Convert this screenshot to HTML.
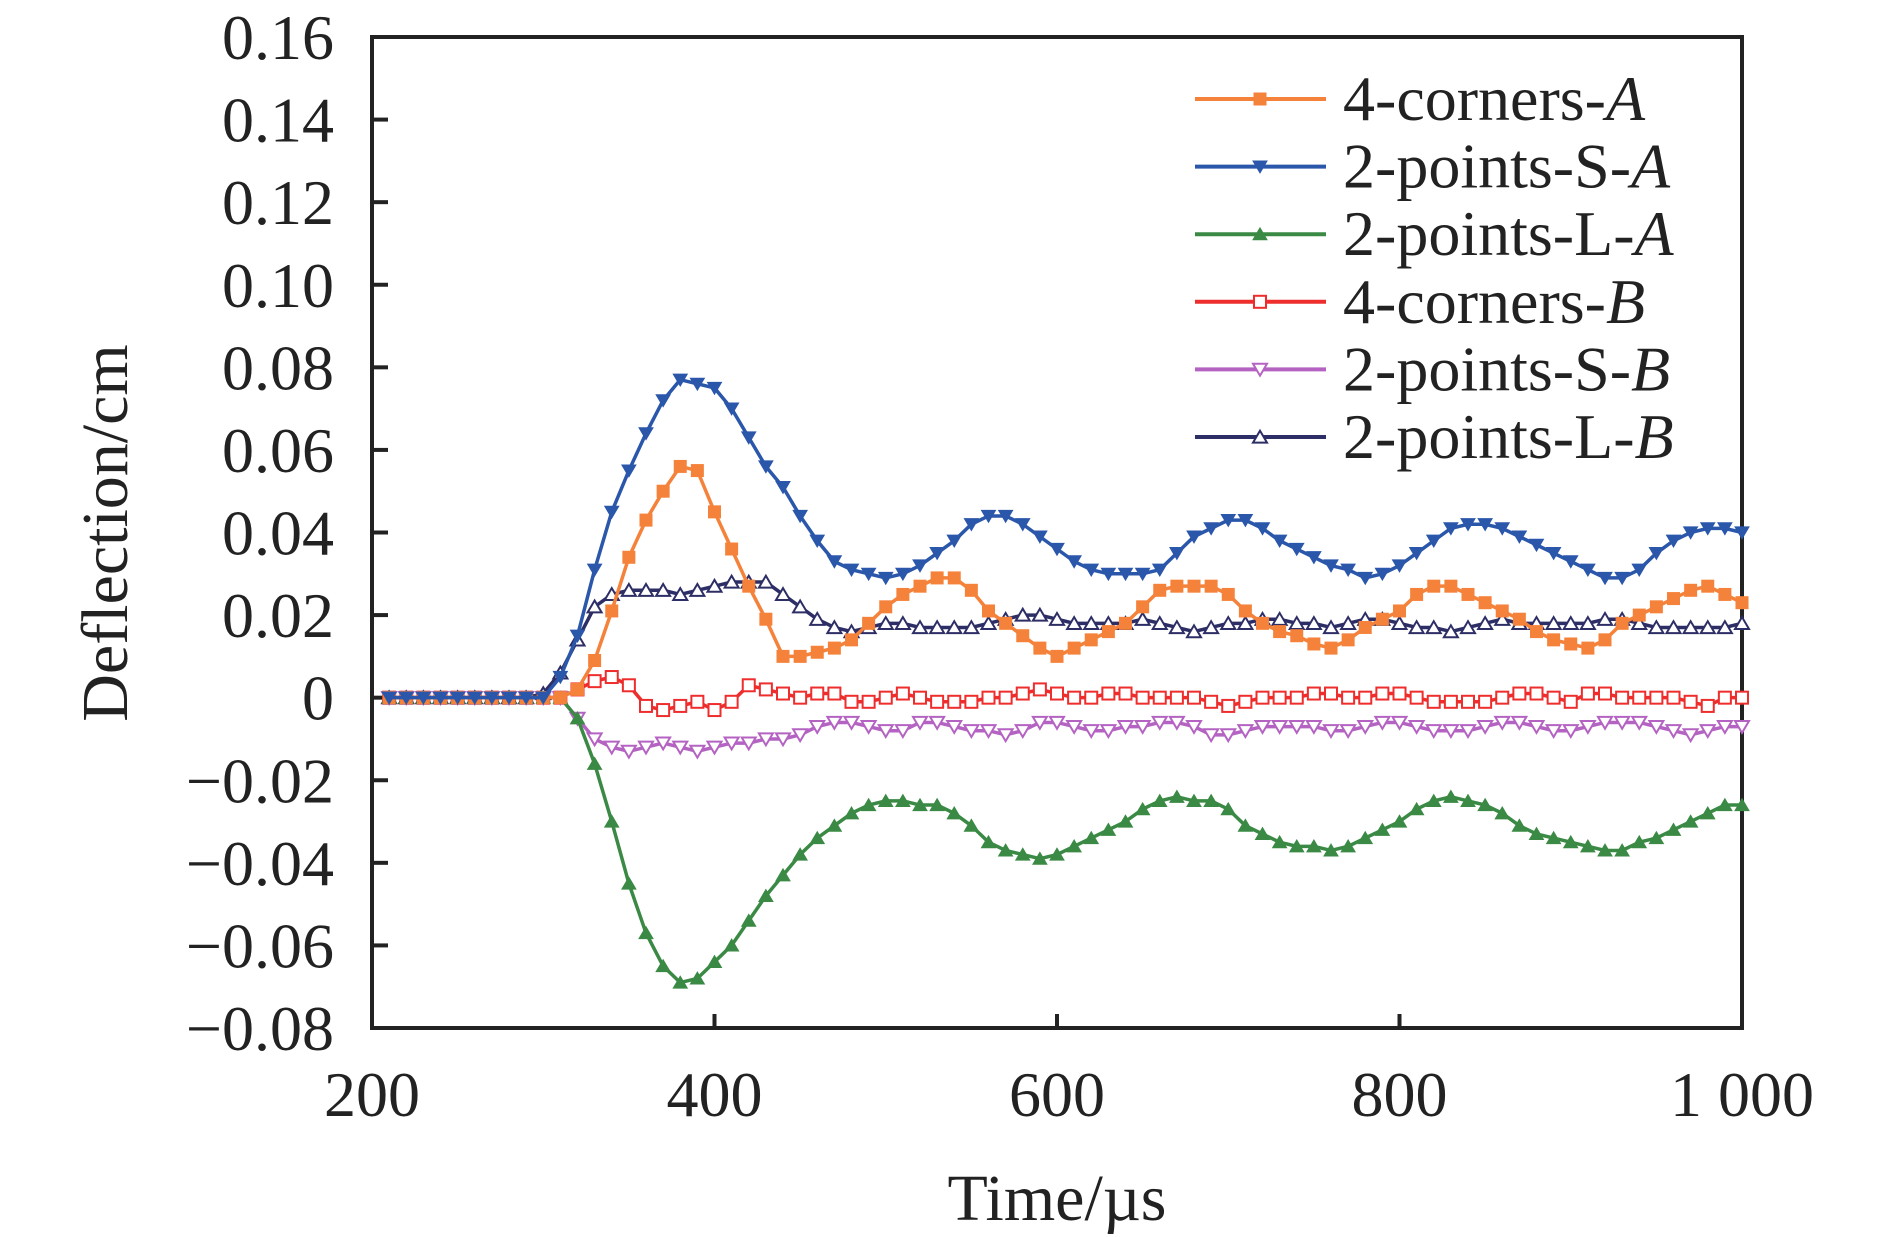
<!DOCTYPE html>
<html><head><meta charset="utf-8"><style>
html,body{margin:0;padding:0;background:#fff;}
svg{display:block;}
text{font-family:"Liberation Serif","DejaVu Serif",serif;}
</style></head><body>
<svg id="chart" width="1890" height="1237" viewBox="0 0 1890 1237" xmlns="http://www.w3.org/2000/svg">
<g id="grid"></g><g id="series"></g><g id="legend"></g>
</svg>
<script>
const times = [];
for (let t = 200; t <= 1000; t += 10) times.push(t);
const z = n => Array(n).fill(0);
const cornersA = [...z(12),0.002,0.009,0.021,0.034,0.043,0.050,0.056,0.055,0.045,0.036,0.027,0.019,0.010,0.010,0.011,0.012,0.014,0.018,0.022,0.025,0.027,0.029,0.029,0.026,0.021,0.018,0.015,0.012,0.010,0.012,0.014,0.016,0.018,0.022,0.026,0.027,0.027,0.027,0.025,0.021,0.018,0.016,0.015,0.013,0.012,0.014,0.017,0.019,0.021,0.025,0.027,0.027,0.025,0.023,0.021,0.019,0.016,0.014,0.013,0.012,0.014,0.018,0.020,0.022,0.024,0.026,0.027,0.025,0.023];
const pointsSA = [...z(11),0.005,0.015,0.031,0.045,0.055,0.064,0.072,0.077,0.076,0.075,0.070,0.063,0.056,0.051,0.044,0.038,0.033,0.031,0.030,0.029,0.030,0.032,0.035,0.038,0.042,0.044,0.044,0.042,0.039,0.036,0.033,0.031,0.030,0.030,0.030,0.031,0.035,0.039,0.041,0.043,0.043,0.041,0.038,0.036,0.034,0.032,0.031,0.029,0.030,0.032,0.035,0.038,0.041,0.042,0.042,0.041,0.039,0.037,0.035,0.033,0.031,0.029,0.029,0.031,0.035,0.038,0.040,0.041,0.041,0.040];
const pointsLA = [...z(12),-0.005,-0.016,-0.030,-0.045,-0.057,-0.065,-0.069,-0.068,-0.064,-0.060,-0.054,-0.048,-0.043,-0.038,-0.034,-0.031,-0.028,-0.026,-0.025,-0.025,-0.026,-0.026,-0.028,-0.031,-0.035,-0.037,-0.038,-0.039,-0.038,-0.036,-0.034,-0.032,-0.030,-0.027,-0.025,-0.024,-0.025,-0.025,-0.027,-0.031,-0.033,-0.035,-0.036,-0.036,-0.037,-0.036,-0.034,-0.032,-0.030,-0.027,-0.025,-0.024,-0.025,-0.026,-0.028,-0.031,-0.033,-0.034,-0.035,-0.036,-0.037,-0.037,-0.035,-0.034,-0.032,-0.030,-0.028,-0.026,-0.026];
const cornersB = [...z(12),0.002,0.004,0.005,0.003,-0.002,-0.003,-0.002,-0.001,-0.003,-0.001,0.003,0.002,0.001,0.000,0.001,0.001,-0.001,-0.001,0.000,0.001,0.000,-0.001,-0.001,-0.001,0.000,0.000,0.001,0.002,0.001,0.000,0.000,0.001,0.001,0.000,0.000,0.000,0.000,-0.001,-0.002,-0.001,0.000,0.000,0.000,0.001,0.001,0.000,0.000,0.001,0.001,0.000,-0.001,-0.001,-0.001,-0.001,0.000,0.001,0.001,0.000,-0.001,0.001,0.001,0.000,0.000,0.000,0.000,-0.001,-0.002,0.000,0.000,-0.001];
const pointsSB = [...z(12),-0.005,-0.010,-0.012,-0.013,-0.012,-0.011,-0.012,-0.013,-0.012,-0.011,-0.011,-0.010,-0.010,-0.009,-0.007,-0.006,-0.006,-0.007,-0.008,-0.008,-0.006,-0.006,-0.007,-0.008,-0.008,-0.009,-0.008,-0.006,-0.006,-0.007,-0.008,-0.008,-0.007,-0.007,-0.006,-0.006,-0.007,-0.009,-0.009,-0.008,-0.007,-0.007,-0.007,-0.007,-0.008,-0.008,-0.007,-0.006,-0.006,-0.007,-0.008,-0.008,-0.008,-0.007,-0.006,-0.006,-0.007,-0.008,-0.008,-0.007,-0.006,-0.006,-0.006,-0.007,-0.008,-0.009,-0.008,-0.007,-0.007];
const pointsLB = [...z(10),0.001,0.006,0.014,0.022,0.025,0.026,0.026,0.026,0.025,0.026,0.027,0.028,0.028,0.028,0.025,0.022,0.019,0.017,0.016,0.017,0.018,0.018,0.017,0.017,0.017,0.017,0.018,0.019,0.020,0.020,0.019,0.018,0.018,0.018,0.018,0.019,0.018,0.017,0.016,0.017,0.018,0.018,0.019,0.019,0.018,0.018,0.017,0.018,0.019,0.019,0.018,0.017,0.017,0.016,0.017,0.018,0.019,0.018,0.018,0.018,0.018,0.018,0.019,0.019,0.018,0.017,0.017,0.017,0.017,0.017,0.018];
const seriesNames = ["4-corners-","2-points-S-","2-points-L-","4-corners-","2-points-S-","2-points-L-"];
const seriesSuffix = ["A","A","A","B","B","B"];
const xTicks = [200,400,600,800,1000];
const xTickLabels = ["200","400","600","800","1 000"];
const yTicks = [0.16,0.14,0.12,0.10,0.08,0.06,0.04,0.02,0,-0.02,-0.04,-0.06,-0.08];
const yTickLabels = ["0.16","0.14","0.12","0.10","0.08","0.06","0.04","0.02","0","\u22120.02","\u22120.04","\u22120.06","\u22120.08"];

const L=372,R=1742,T=37,B=1028;
const xS=v=>L+(v-200)/800*(R-L);
const yS=v=>T+(0.16-v)/0.24*(B-T);
const NS="http://www.w3.org/2000/svg";
function mk(tag,attrs,parent){const e=document.createElementNS(NS,tag);for(const k in attrs)e.setAttribute(k,attrs[k]);parent.appendChild(e);return e;}
const grid=document.getElementById('grid'),ser=document.getElementById('series'),leg=document.getElementById('legend');
const frame=mk('rect',{x:L,y:T,width:R-L,height:B-T,fill:'none',stroke:'#222','stroke-width':4},grid);


xTicks.forEach((v,i)=>{
  const tk=mk('line',{x1:xS(v),x2:xS(v),y1:B,y2:B-14,stroke:'#222','stroke-width':4},grid);
  
  
  const t=mk('text',{x:xS(v),y:1116,'text-anchor':'middle','font-size':64,fill:'#222'},grid);
  t.textContent=xTickLabels[i];
  
  
});
yTicks.forEach((v,i)=>{
  const tk=mk('line',{x1:L,x2:L+16,y1:yS(v),y2:yS(v),stroke:'#222','stroke-width':4},grid);
  
  
  const t=mk('text',{x:334,y:yS(v)+22,'text-anchor':'end','font-size':64,fill:'#222'},grid);
  t.textContent=yTickLabels[i];
  
  
});
const xt=mk('text',{x:1057,y:1220,'text-anchor':'middle','font-size':66,fill:'#222'},grid);
xt.textContent='Time/\u00b5s';


const yt=mk('text',{x:0,y:0,'text-anchor':'middle','font-size':66,fill:'#222',transform:'translate(127,533) rotate(-90)'},grid);
yt.textContent='Deflection/cm';



const colors=['#f5823a','#2b57ab','#3a8a45','#ee2d2d','#b463c2','#2e2e66'];
const markers=['sq','tdown','tup','sqo','tdowno','tupo'];
const datasets=[cornersA,pointsSA,pointsLA,cornersB,pointsSB,pointsLB];
const s=7;
function marker(type,x,y,c,g){
  const open=type.endsWith('o');const fill=open?'#fff':c;const sw=open?2:1;
  if(type.startsWith('sq')) return mk('rect',{x:x-s+1,y:y-s+1,width:2*s-2,height:2*s-2,fill,stroke:c,'stroke-width':sw},g);
  if(type.startsWith('tdown')) return mk('polygon',{points:`${x-s},${y-s*0.8} ${x+s},${y-s*0.8} ${x},${y+s*0.9}`,fill,stroke:c,'stroke-width':sw},g);
  return mk('polygon',{points:`${x-s},${y+s*0.8} ${x+s},${y+s*0.8} ${x},${y-s*0.9}`,fill,stroke:c,'stroke-width':sw},g);
}
[3,4,5,2,0,1].forEach(si=>{
  const d=datasets[si];
  const g=mk('g',{},ser);
  
  
  const pts=[];
  for(let i=1;i<times.length&&i<d.length;i++)pts.push(xS(times[i])+','+yS(d[i]));
  const pl=mk('polyline',{points:pts.join(' '),fill:'none',stroke:colors[si],'stroke-width':3.5},g);
  
  
  for(let i=1;i<times.length&&i<d.length;i++){
    const m=marker(markers[si],xS(times[i]),yS(d[i]),colors[si],g);
    
    
  }
});
for(let si=0;si<6;si++){
  const y=99+si*67.6;
  const g=mk('g',{},leg);
  
  
  mk('line',{x1:1195,x2:1326,y1:y,y2:y,stroke:colors[si],'stroke-width':4},g);
  marker(markers[si],1260,y,colors[si],g);
  const t=mk('text',{x:1343,y:y+21,'font-size':64,fill:'#222'},g);
  t.textContent=seriesNames[si];
  const it=mk('tspan',{'font-style':'italic'},t);
  it.textContent=seriesSuffix[si];
}
</script>
</body></html>
